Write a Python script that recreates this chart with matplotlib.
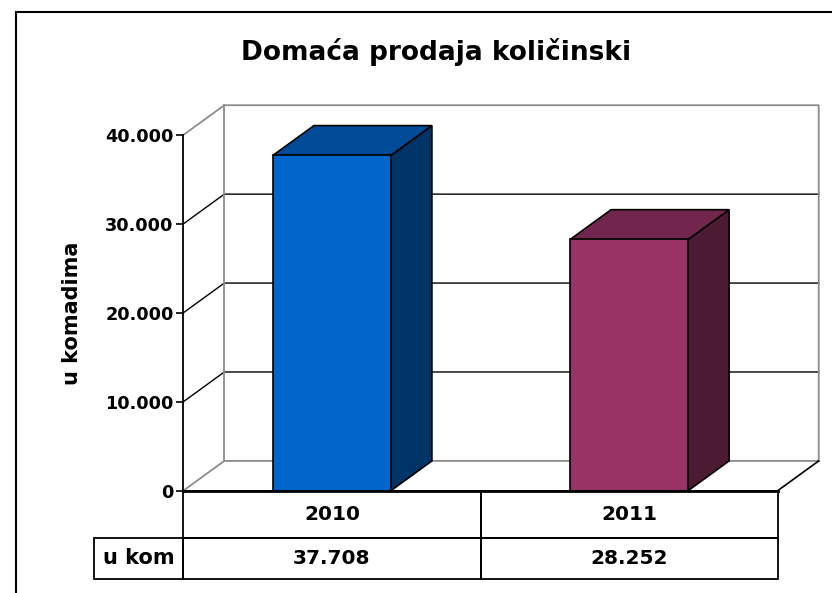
import matplotlib
matplotlib.use("Agg")
import matplotlib.pyplot as plt
from matplotlib.patches import Rectangle, Polygon
from matplotlib.ticker import FuncFormatter

# data
years = ["2010", "2011"]
units_sold = [37708, 28252]
value_labels = ["37.708", "28.252"]
row_label = "u kom"
y_ticks = [0, 10000, 20000, 30000, 40000]
title = "Domaća prodaja količinski"
y_label = "u komadima"

front_colors = ["#0066cc", "#993366"]
top_colors = ["#004c99", "#73264d"]
side_colors = ["#003366", "#4d1a33"]

plt.rcParams["font.family"] = ["DejaVu Sans"]
plt.rcParams["font.weight"] = "bold"

W, H = 832, 593
fig = plt.figure(figsize=(W / 100, H / 100), dpi=100)

# front plane of the 3d box, in pixels
left_px, right_px, top_px, bot_px = 183.3, 777.7, 135.0, 490.7
ax_w = right_px - left_px
ax_h = bot_px - top_px
ax = fig.add_axes([left_px / W, 1 - bot_px / H, ax_w / W, ax_h / H])
ax.set_xlim(-0.5, len(years) - 0.5)
ax.set_ylim(0, 40000)

# depth of the 3d effect in data units
dx = 0.138
dy = 3350
bar_w = 0.397
grey = "#8c8c8c"

x0, x1 = -0.5, len(years) - 0.5
ymax = y_ticks[-1]

# walls and gridlines
for v in y_ticks[1:-1]:
    ax.plot([x0, x0 + dx, x1 + dx], [v, v + dy, v + dy], color="black", lw=1.0, clip_on=False, zorder=1)
ax.plot([x0, x0 + dx, x1 + dx, x1 + dx], [ymax, ymax + dy, ymax + dy, dy], color=grey, lw=1.3, clip_on=False, zorder=1)
ax.plot([x0 + dx, x0 + dx], [dy, ymax + dy], color=grey, lw=1.3, clip_on=False, zorder=1)
ax.plot([x0, x0 + dx, x1 + dx], [0, dy, dy], color=grey, lw=1.3, clip_on=False, zorder=1)
ax.plot([x1, x1 + dx], [0, dy], color="black", lw=1.2, clip_on=False, zorder=1)

# bars
for i, v in enumerate(units_sold):
    bx0 = i - bar_w / 2
    bx1 = i + bar_w / 2
    ax.add_patch(Polygon([(bx1, 0), (bx1 + dx, dy), (bx1 + dx, v + dy), (bx1, v)],
                         facecolor=side_colors[i], edgecolor="black", lw=1.2, clip_on=False, zorder=3))
    ax.add_patch(Polygon([(bx0, v), (bx1, v), (bx1 + dx, v + dy), (bx0 + dx, v + dy)],
                         facecolor=top_colors[i], edgecolor="black", lw=1.2, clip_on=False, zorder=3))
    ax.add_patch(Rectangle((bx0, 0), bar_w, v, facecolor=front_colors[i],
                           edgecolor="black", lw=1.2, clip_on=False, zorder=4))

ax.plot([x0, x1], [0, 0], color="black", lw=2, clip_on=False, zorder=5)

# axes styling
for s in ["top", "right", "bottom"]:
    ax.spines[s].set_visible(False)
ax.spines["left"].set_linewidth(1.3)
ax.spines["left"].set_zorder(5)
ax.set_xticks([])
ax.set_yticks(y_ticks)
ax.yaxis.set_major_formatter(FuncFormatter(lambda v, p: f"{int(v):,}".replace(",", ".")))
ax.tick_params(axis="y", length=5, width=1.2, pad=2, labelsize=12.7)
for lab in ax.get_yticklabels():
    lab.set_fontweight("bold")
ax.patch.set_visible(False)

# data table below the floor (axes fraction coordinates)
n = len(years)
row1_h = 47 / ax_h
row2_h = (579.3 - 537.7) / ax_h
label_x = (94 - left_px) / ax_w
cell_kw = dict(transform=ax.transAxes, fill=False, edgecolor="black", lw=1.3, clip_on=False, zorder=5)
for i in range(n):
    cx0 = i / n
    ax.add_patch(Rectangle((cx0, -row1_h), 1 / n, row1_h, **cell_kw))
    ax.add_patch(Rectangle((cx0, -row1_h - row2_h), 1 / n, row2_h, **cell_kw))
    ax.text(cx0 + 0.5 / n, -row1_h / 2, years[i], transform=ax.transAxes,
            ha="center", va="center", fontsize=14.5, fontweight="bold")
    ax.text(cx0 + 0.5 / n, -row1_h - row2_h / 2, value_labels[i], transform=ax.transAxes,
            ha="center", va="center", fontsize=14.5, fontweight="bold")
ax.add_patch(Rectangle((label_x, -row1_h - row2_h), -label_x, row2_h, **cell_kw))
ax.text(label_x / 2, -row1_h - row2_h / 2, row_label, transform=ax.transAxes,
        ha="center", va="center", fontsize=15, fontweight="bold")

# title and axis label
fig.text(436 / W, 1 - 52 / H, title, ha="center", va="center", fontsize=19, fontweight="bold")
fig.text(72 / W, 1 - 313 / H, y_label, ha="center", va="center", rotation=90, fontsize=15, fontweight="bold")

# chart area border
fig.patches.append(Rectangle((16 / W, -0.1), 1.1, 1 - 12 / H + 0.1, transform=fig.transFigure,
                             fill=False, edgecolor="black", lw=1.5))

fig.savefig("out.png", dpi=100)
